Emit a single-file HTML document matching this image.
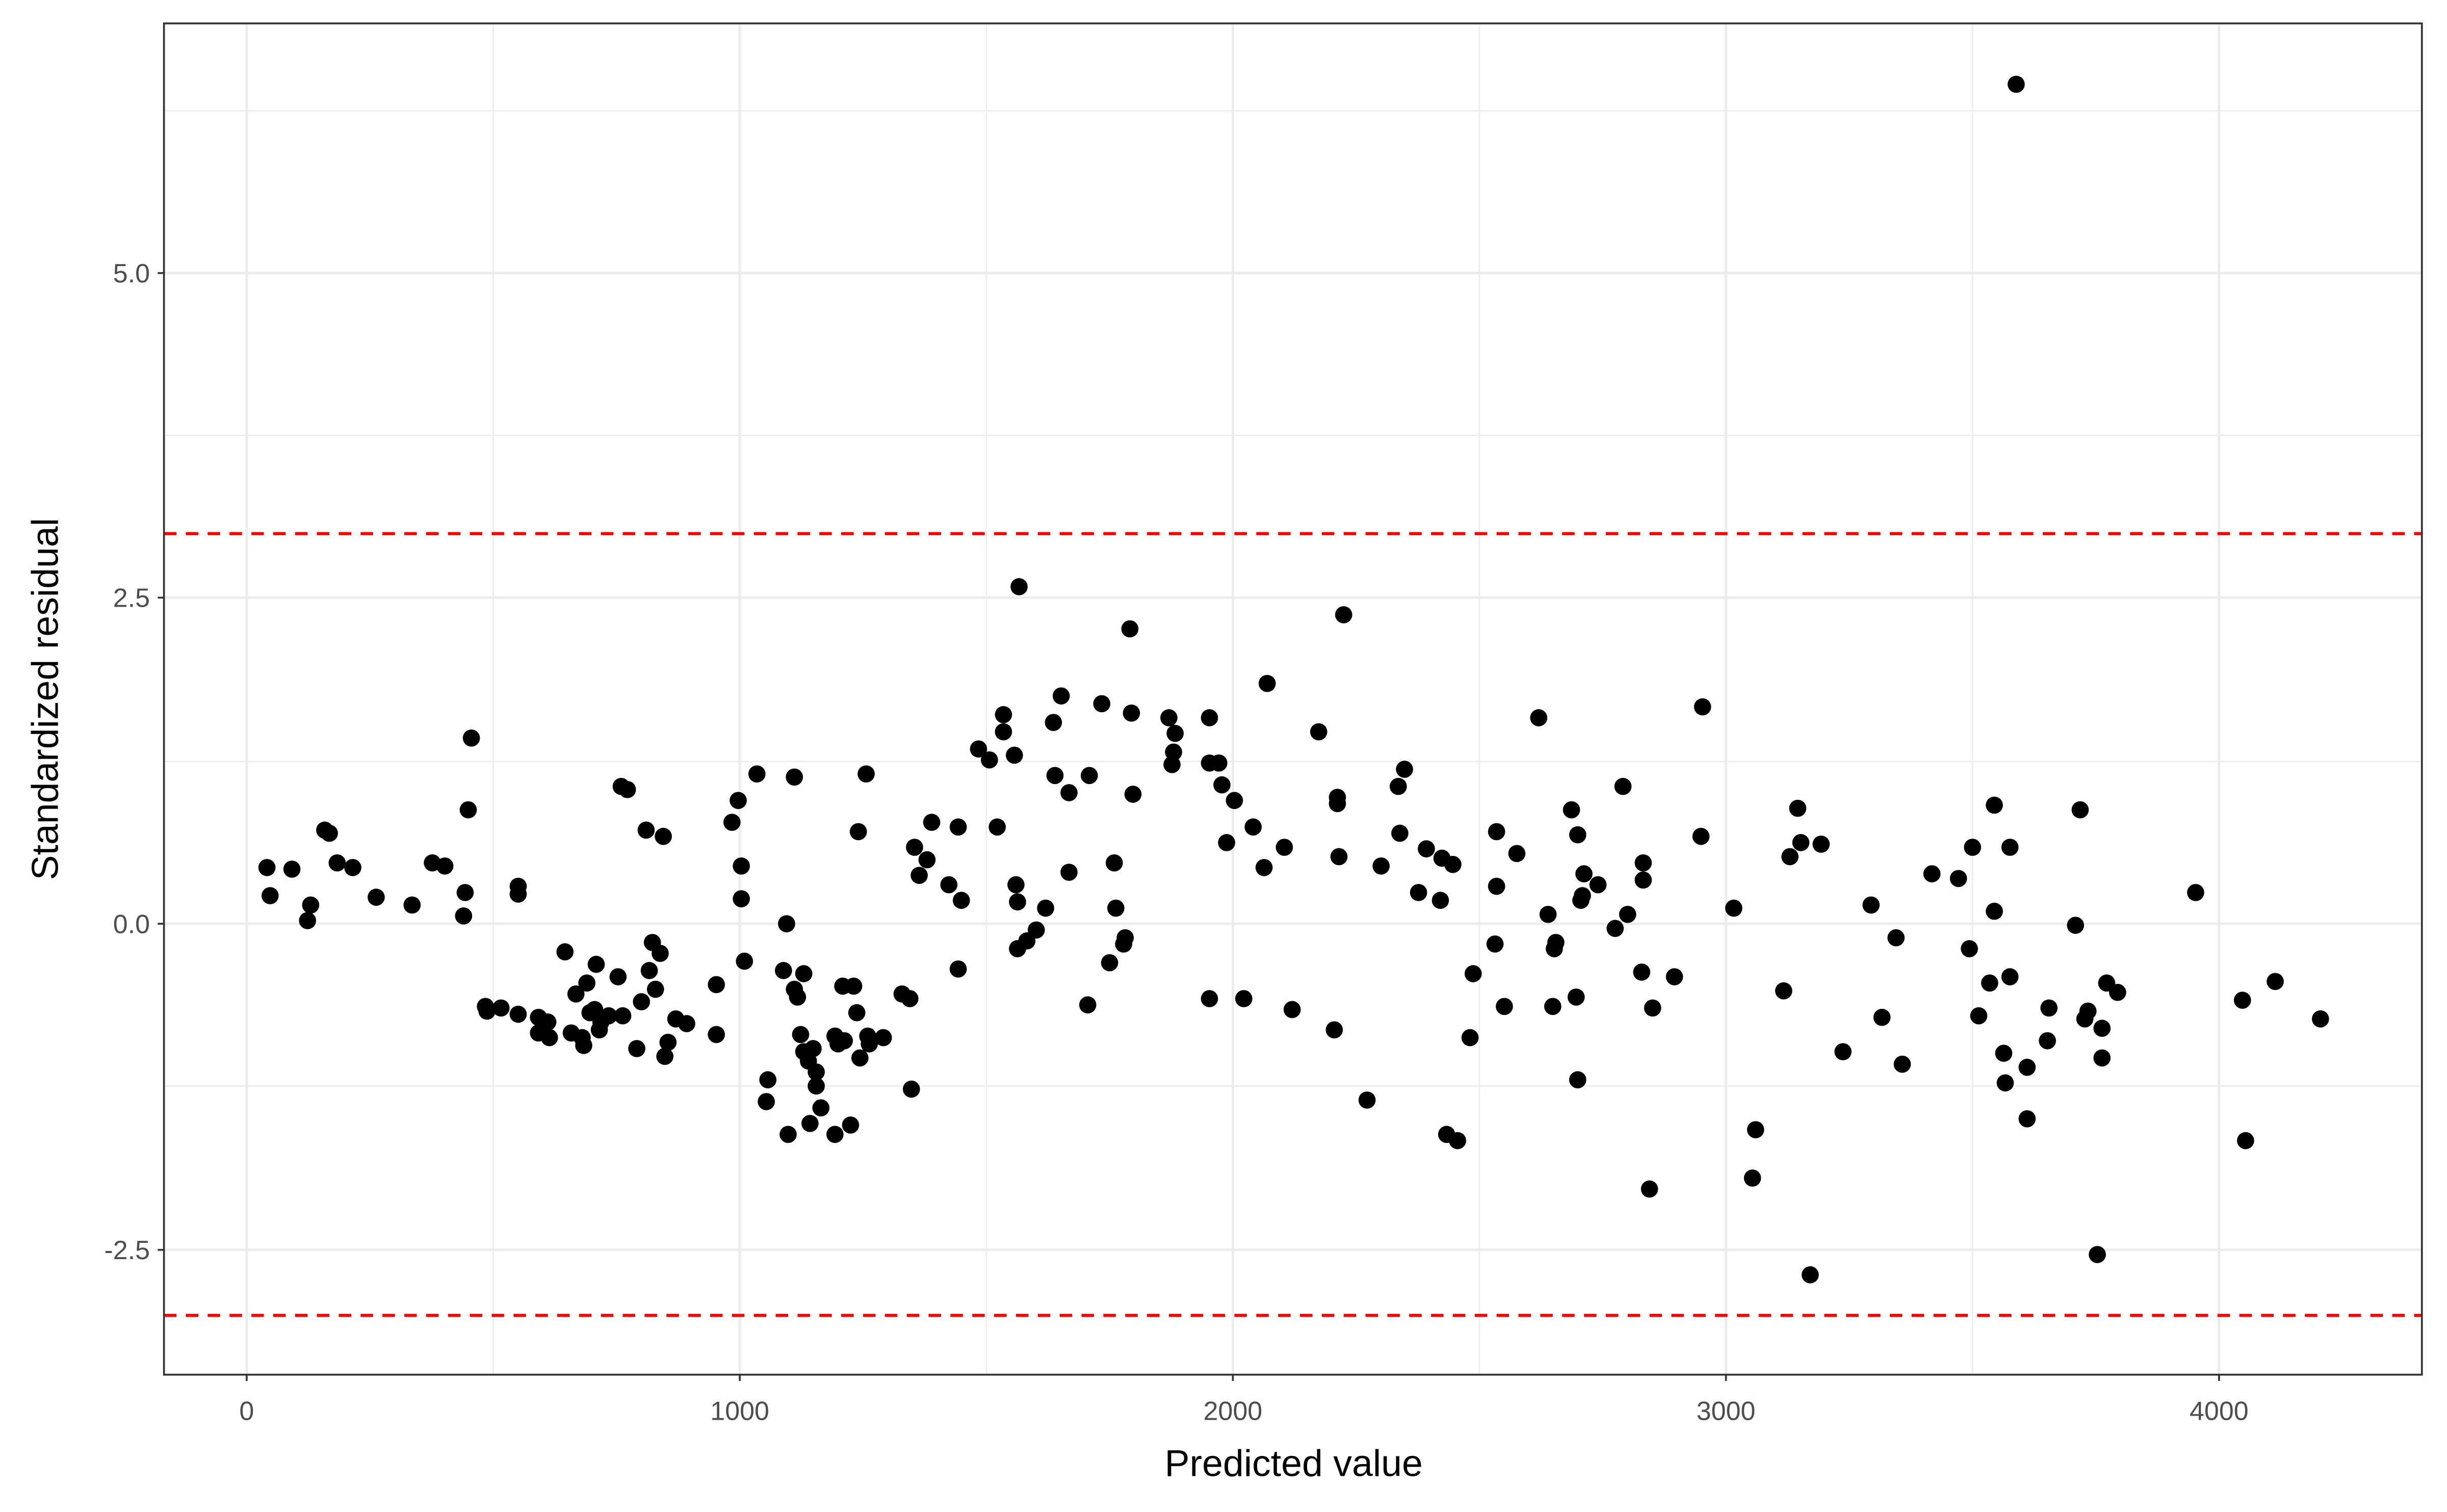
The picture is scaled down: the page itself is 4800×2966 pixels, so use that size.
<!DOCTYPE html>
<html><head><meta charset="utf-8"><style>html,body{margin:0;padding:0;background:#fff}svg{display:block}</style></head>
<body>
<svg width="4800" height="2966" viewBox="0 0 1568 969" xmlns="http://www.w3.org/2000/svg" font-family="Liberation Sans, sans-serif">
<rect width="1568" height="969" fill="#fff"/>
<g stroke="#ebebeb" stroke-width="0.8">
<line x1="316" y1="15" x2="316" y2="881"/><line x1="632" y1="15" x2="632" y2="881"/><line x1="948" y1="15" x2="948" y2="881"/><line x1="1264" y1="15" x2="1264" y2="881"/>
<line x1="105" y1="71" x2="1552" y2="71"/><line x1="105" y1="279" x2="1552" y2="279"/><line x1="105" y1="488" x2="1552" y2="488"/><line x1="105" y1="696" x2="1552" y2="696"/>
</g>
<g stroke="#ebebeb" stroke-width="1.6">
<line x1="158" y1="15" x2="158" y2="881"/><line x1="474" y1="15" x2="474" y2="881"/><line x1="790" y1="15" x2="790" y2="881"/><line x1="1106" y1="15" x2="1106" y2="881"/><line x1="1422" y1="15" x2="1422" y2="881"/>
<line x1="105" y1="175" x2="1552" y2="175"/><line x1="105" y1="383" x2="1552" y2="383"/><line x1="105" y1="592" x2="1552" y2="592"/><line x1="105" y1="801" x2="1552" y2="801"/>
</g>
<g stroke="#ff0000" stroke-width="2" stroke-dasharray="8,6">
<line x1="105" y1="342" x2="1552" y2="342"/><line x1="105" y1="843" x2="1552" y2="843"/>
</g>
<rect x="105" y="15" width="1447" height="866" fill="none" stroke="#333" stroke-width="1.2"/>
<g stroke="#333" stroke-width="1.2">
<line x1="101" y1="175" x2="105" y2="175"/><line x1="101" y1="383" x2="105" y2="383"/><line x1="101" y1="592" x2="105" y2="592"/><line x1="101" y1="801" x2="105" y2="801"/>
<line x1="158" y1="881" x2="158" y2="885"/><line x1="474" y1="881" x2="474" y2="885"/><line x1="790" y1="881" x2="790" y2="885"/><line x1="1106" y1="881" x2="1106" y2="885"/><line x1="1422" y1="881" x2="1422" y2="885"/>
</g>
<g fill="#4d4d4d" font-size="17" text-anchor="end">
<text x="96" y="181">5.0</text><text x="96" y="389">2.5</text><text x="96" y="598">0.0</text><text x="96" y="807">-2.5</text>
</g>
<g fill="#4d4d4d" font-size="17" text-anchor="middle">
<text x="158" y="910">0</text><text x="474" y="910">1000</text><text x="790" y="910">2000</text><text x="1106" y="910">3000</text><text x="1422" y="910">4000</text>
</g>
<text x="829" y="946" font-size="24" text-anchor="middle" fill="#000">Predicted value</text>
<text transform="translate(37,448) rotate(-90)" font-size="24" text-anchor="middle" fill="#000">Standardized residual</text>
<g fill="#000">
<circle cx="171" cy="556" r="5.5"/><circle cx="173" cy="574" r="5.5"/><circle cx="187" cy="557" r="5.5"/><circle cx="197" cy="590" r="5.5"/><circle cx="199" cy="580" r="5.5"/><circle cx="208" cy="532" r="5.5"/><circle cx="211" cy="534" r="5.5"/><circle cx="216" cy="553" r="5.5"/><circle cx="226" cy="556" r="5.5"/><circle cx="241" cy="575" r="5.5"/><circle cx="264" cy="580" r="5.5"/><circle cx="277" cy="553" r="5.5"/><circle cx="285" cy="555" r="5.5"/><circle cx="297" cy="587" r="5.5"/><circle cx="298" cy="572" r="5.5"/><circle cx="300" cy="519" r="5.5"/><circle cx="302" cy="473" r="5.5"/>
<circle cx="311" cy="645" r="5.5"/><circle cx="312" cy="648" r="5.5"/><circle cx="321" cy="646" r="5.5"/><circle cx="332" cy="650" r="5.5"/><circle cx="332" cy="568" r="5.5"/><circle cx="332" cy="573" r="5.5"/><circle cx="345" cy="652" r="5.5"/><circle cx="345" cy="662" r="5.5"/><circle cx="351" cy="655" r="5.5"/><circle cx="352" cy="665" r="5.5"/><circle cx="362" cy="610" r="5.5"/><circle cx="366" cy="662" r="5.5"/><circle cx="369" cy="637" r="5.5"/><circle cx="373" cy="665" r="5.5"/><circle cx="374" cy="670" r="5.5"/><circle cx="376" cy="630" r="5.5"/><circle cx="378" cy="649" r="5.5"/><circle cx="381" cy="647" r="5.5"/><circle cx="382" cy="618" r="5.5"/><circle cx="384" cy="660" r="5.5"/><circle cx="385" cy="655" r="5.5"/><circle cx="390" cy="651" r="5.5"/><circle cx="396" cy="626" r="5.5"/><circle cx="398" cy="504" r="5.5"/><circle cx="399" cy="651" r="5.5"/><circle cx="402" cy="506" r="5.5"/><circle cx="408" cy="672" r="5.5"/><circle cx="411" cy="642" r="5.5"/><circle cx="414" cy="532" r="5.5"/><circle cx="416" cy="622" r="5.5"/><circle cx="418" cy="604" r="5.5"/><circle cx="420" cy="634" r="5.5"/><circle cx="423" cy="611" r="5.5"/><circle cx="425" cy="536" r="5.5"/><circle cx="426" cy="677" r="5.5"/><circle cx="428" cy="668" r="5.5"/><circle cx="433" cy="653" r="5.5"/><circle cx="440" cy="656" r="5.5"/><circle cx="459" cy="631" r="5.5"/><circle cx="459" cy="663" r="5.5"/><circle cx="469" cy="527" r="5.5"/><circle cx="473" cy="513" r="5.5"/><circle cx="475" cy="555" r="5.5"/><circle cx="475" cy="576" r="5.5"/><circle cx="477" cy="616" r="5.5"/><circle cx="485" cy="496" r="5.5"/><circle cx="491" cy="706" r="5.5"/><circle cx="492" cy="692" r="5.5"/><circle cx="502" cy="622" r="5.5"/><circle cx="504" cy="592" r="5.5"/><circle cx="505" cy="727" r="5.5"/><circle cx="509" cy="498" r="5.5"/><circle cx="509" cy="634" r="5.5"/><circle cx="511" cy="639" r="5.5"/><circle cx="513" cy="663" r="5.5"/><circle cx="515" cy="624" r="5.5"/><circle cx="515" cy="674" r="5.5"/><circle cx="518" cy="680" r="5.5"/><circle cx="519" cy="720" r="5.5"/><circle cx="521" cy="672" r="5.5"/><circle cx="523" cy="687" r="5.5"/><circle cx="523" cy="696" r="5.5"/><circle cx="526" cy="710" r="5.5"/><circle cx="535" cy="664" r="5.5"/><circle cx="537" cy="669" r="5.5"/><circle cx="540" cy="632" r="5.5"/><circle cx="541" cy="667" r="5.5"/><circle cx="535" cy="727" r="5.5"/><circle cx="545" cy="721" r="5.5"/><circle cx="547" cy="632" r="5.5"/><circle cx="549" cy="649" r="5.5"/><circle cx="550" cy="533" r="5.5"/><circle cx="551" cy="678" r="5.5"/><circle cx="555" cy="496" r="5.5"/><circle cx="556" cy="664" r="5.5"/><circle cx="557" cy="669" r="5.5"/><circle cx="566" cy="665" r="5.5"/><circle cx="578" cy="637" r="5.5"/><circle cx="583" cy="640" r="5.5"/><circle cx="584" cy="698" r="5.5"/><circle cx="586" cy="543" r="5.5"/><circle cx="589" cy="561" r="5.5"/><circle cx="594" cy="551" r="5.5"/><circle cx="597" cy="527" r="5.5"/><circle cx="608" cy="567" r="5.5"/><circle cx="614" cy="530" r="5.5"/><circle cx="614" cy="621" r="5.5"/><circle cx="616" cy="577" r="5.5"/><circle cx="627" cy="480" r="5.5"/><circle cx="634" cy="487" r="5.5"/><circle cx="639" cy="530" r="5.5"/><circle cx="643" cy="458" r="5.5"/><circle cx="643" cy="469" r="5.5"/><circle cx="650" cy="484" r="5.5"/><circle cx="651" cy="567" r="5.5"/><circle cx="652" cy="578" r="5.5"/><circle cx="652" cy="608" r="5.5"/><circle cx="653" cy="376" r="5.5"/><circle cx="658" cy="603" r="5.5"/><circle cx="664" cy="596" r="5.5"/><circle cx="670" cy="582" r="5.5"/><circle cx="675" cy="463" r="5.5"/><circle cx="676" cy="497" r="5.5"/><circle cx="680" cy="446" r="5.5"/><circle cx="685" cy="508" r="5.5"/><circle cx="685" cy="559" r="5.5"/><circle cx="697" cy="644" r="5.5"/><circle cx="698" cy="497" r="5.5"/><circle cx="706" cy="451" r="5.5"/><circle cx="711" cy="617" r="5.5"/><circle cx="714" cy="553" r="5.5"/><circle cx="715" cy="582" r="5.5"/><circle cx="720" cy="605" r="5.5"/><circle cx="721" cy="601" r="5.5"/><circle cx="724" cy="403" r="5.5"/><circle cx="725" cy="457" r="5.5"/><circle cx="726" cy="509" r="5.5"/><circle cx="749" cy="460" r="5.5"/><circle cx="751" cy="490" r="5.5"/><circle cx="752" cy="482" r="5.5"/><circle cx="753" cy="470" r="5.5"/><circle cx="775" cy="460" r="5.5"/><circle cx="775" cy="489" r="5.5"/><circle cx="775" cy="640" r="5.5"/><circle cx="781" cy="489" r="5.5"/><circle cx="783" cy="503" r="5.5"/><circle cx="786" cy="540" r="5.5"/><circle cx="791" cy="513" r="5.5"/><circle cx="797" cy="640" r="5.5"/><circle cx="803" cy="530" r="5.5"/><circle cx="810" cy="556" r="5.5"/><circle cx="812" cy="438" r="5.5"/><circle cx="823" cy="543" r="5.5"/><circle cx="828" cy="647" r="5.5"/><circle cx="845" cy="469" r="5.5"/><circle cx="857" cy="511" r="5.5"/><circle cx="857" cy="515" r="5.5"/><circle cx="858" cy="549" r="5.5"/><circle cx="855" cy="660" r="5.5"/><circle cx="861" cy="394" r="5.5"/><circle cx="876" cy="705" r="5.5"/><circle cx="885" cy="555" r="5.5"/><circle cx="896" cy="504" r="5.5"/><circle cx="897" cy="534" r="5.5"/><circle cx="900" cy="493" r="5.5"/><circle cx="909" cy="572" r="5.5"/><circle cx="914" cy="544" r="5.5"/><circle cx="923" cy="577" r="5.5"/><circle cx="924" cy="550" r="5.5"/><circle cx="927" cy="727" r="5.5"/><circle cx="931" cy="554" r="5.5"/><circle cx="934" cy="731" r="5.5"/><circle cx="942" cy="665" r="5.5"/><circle cx="944" cy="624" r="5.5"/><circle cx="958" cy="605" r="5.5"/><circle cx="959" cy="533" r="5.5"/><circle cx="959" cy="568" r="5.5"/><circle cx="964" cy="645" r="5.5"/><circle cx="972" cy="547" r="5.5"/><circle cx="986" cy="460" r="5.5"/><circle cx="992" cy="586" r="5.5"/><circle cx="996" cy="608" r="5.5"/><circle cx="997" cy="604" r="5.5"/><circle cx="995" cy="645" r="5.5"/><circle cx="1007" cy="519" r="5.5"/><circle cx="1010" cy="639" r="5.5"/><circle cx="1011" cy="535" r="5.5"/><circle cx="1011" cy="692" r="5.5"/><circle cx="1013" cy="577" r="5.5"/><circle cx="1014" cy="574" r="5.5"/><circle cx="1015" cy="560" r="5.5"/><circle cx="1024" cy="567" r="5.5"/><circle cx="1035" cy="595" r="5.5"/><circle cx="1040" cy="504" r="5.5"/><circle cx="1043" cy="586" r="5.5"/><circle cx="1052" cy="623" r="5.5"/><circle cx="1053" cy="553" r="5.5"/><circle cx="1053" cy="564" r="5.5"/><circle cx="1057" cy="762" r="5.5"/><circle cx="1059" cy="646" r="5.5"/><circle cx="1073" cy="626" r="5.5"/><circle cx="1090" cy="536" r="5.5"/><circle cx="1091" cy="453" r="5.5"/><circle cx="1111" cy="582" r="5.5"/><circle cx="1123" cy="755" r="5.5"/><circle cx="1125" cy="724" r="5.5"/><circle cx="1143" cy="635" r="5.5"/><circle cx="1147" cy="549" r="5.5"/><circle cx="1152" cy="518" r="5.5"/><circle cx="1154" cy="540" r="5.5"/><circle cx="1160" cy="817" r="5.5"/><circle cx="1167" cy="541" r="5.5"/><circle cx="1181" cy="674" r="5.5"/><circle cx="1199" cy="580" r="5.5"/><circle cx="1206" cy="652" r="5.5"/><circle cx="1215" cy="601" r="5.5"/><circle cx="1219" cy="682" r="5.5"/><circle cx="1238" cy="560" r="5.5"/><circle cx="1255" cy="563" r="5.5"/><circle cx="1262" cy="608" r="5.5"/><circle cx="1264" cy="543" r="5.5"/><circle cx="1268" cy="651" r="5.5"/><circle cx="1275" cy="630" r="5.5"/><circle cx="1278" cy="516" r="5.5"/><circle cx="1278" cy="584" r="5.5"/><circle cx="1284" cy="675" r="5.5"/><circle cx="1285" cy="694" r="5.5"/><circle cx="1288" cy="543" r="5.5"/><circle cx="1288" cy="626" r="5.5"/><circle cx="1292" cy="54" r="5.5"/><circle cx="1299" cy="684" r="5.5"/><circle cx="1299" cy="717" r="5.5"/><circle cx="1313" cy="646" r="5.5"/><circle cx="1312" cy="667" r="5.5"/><circle cx="1330" cy="593" r="5.5"/><circle cx="1333" cy="519" r="5.5"/><circle cx="1336" cy="653" r="5.5"/><circle cx="1338" cy="648" r="5.5"/><circle cx="1347" cy="659" r="5.5"/><circle cx="1344" cy="804" r="5.5"/><circle cx="1347" cy="678" r="5.5"/><circle cx="1350" cy="630" r="5.5"/><circle cx="1357" cy="636" r="5.5"/><circle cx="1407" cy="572" r="5.5"/><circle cx="1437" cy="641" r="5.5"/><circle cx="1439" cy="731" r="5.5"/><circle cx="1458" cy="629" r="5.5"/><circle cx="1487" cy="653" r="5.5"/>
</g>
</svg>
</body></html>
